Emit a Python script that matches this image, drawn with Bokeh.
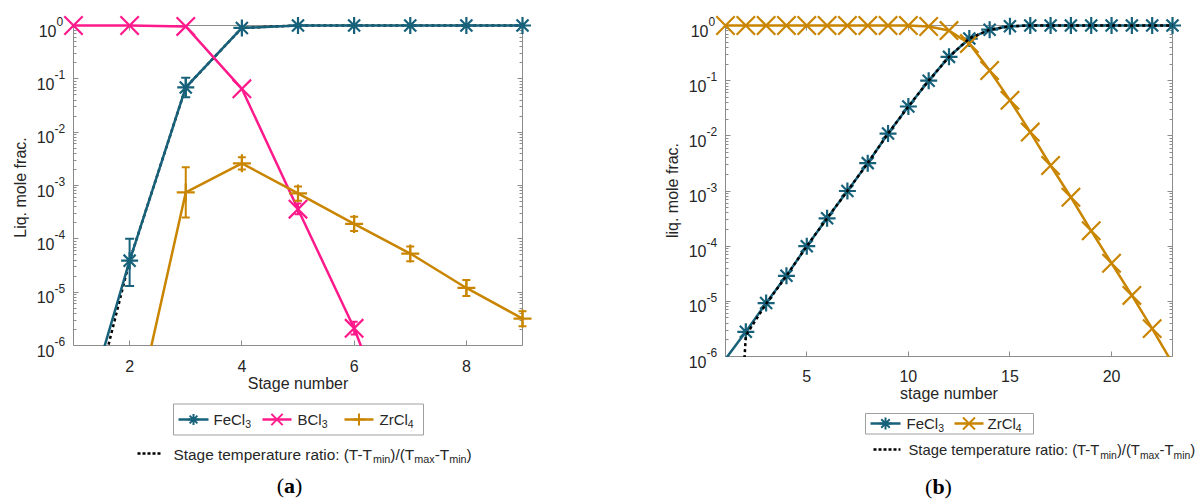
import math
from bokeh.plotting import figure
from bokeh.models import (Range1d, FixedTicker, LogAxis, LinearAxis, LinearScale,
                          Whisker, TeeHead, ColumnDataSource, CustomJSTickFormatter)
from bokeh.layouts import row
from bokeh.core.properties import value
from bokeh.embed import file_html
from bokeh.resources import INLINE

# ---------------- data: panel (a) ----------------
stages_a = [1, 2, 3, 4, 5, 6, 7, 8, 9]
fecl3_a = [1.0e-8, 3.9e-5, 0.069, 0.90, 1.0, 1.0, 1.0, 1.0, 1.0]
temp_ratio_a = [2.5e-9, 3.9e-5, 0.069, 0.90, 1.0, 1.0, 1.0, 1.0, 1.0]
bcl3_stages_a = [1, 2, 3, 4, 5, 6, 7]
bcl3_a = [1.0, 1.0, 0.96, 0.065, 3.6e-4, 2.1e-6, 4.0e-9]
zrcl4_stages_a = [2, 3, 4, 5, 6, 7, 8, 9]
zrcl4_a = [1.5e-8, 7.4e-4, 2.6e-3, 7.1e-4, 1.9e-4, 5.3e-5, 1.2e-5, 3.2e-6]

fecl3_err_stages_a = [2, 3]
fecl3_err_lo_a = [1.3e-5, 0.045]
fecl3_err_hi_a = [1.0e-4, 0.105]
bcl3_err_stages_a = [5, 6]
bcl3_err_lo_a = [2.9e-4, 1.6e-6]
bcl3_err_hi_a = [4.6e-4, 2.8e-6]
zrcl4_err_stages_a = [3, 4, 5, 6, 7, 8, 9]
zrcl4_err_lo_a = [2.5e-4, 2.0e-3, 5.2e-4, 1.4e-4, 3.8e-5, 8.5e-6, 2.3e-6]
zrcl4_err_hi_a = [2.2e-3, 3.4e-3, 9.6e-4, 2.6e-4, 7.2e-5, 1.7e-5, 4.4e-6]

xticks_a = [2, 4, 6, 8]

# ---------------- data: panel (b) ----------------
stages_b = [1, 2, 3, 4, 5, 6, 7, 8, 9, 10, 11, 12, 13, 14, 15, 16, 17, 18, 19, 20, 21, 22, 23]
fecl3_b = [9.0e-7, 2.8e-6, 9.3e-6, 2.9e-5, 1.0e-4, 3.2e-4, 1.0e-3, 3.2e-3, 0.011, 0.034,
           0.10, 0.27, 0.58, 0.84, 0.97, 1.0, 1.0, 1.0, 1.0, 1.0, 1.0, 1.0, 1.0]
zrcl4_b = [1.0, 1.0, 1.0, 1.0, 1.0, 1.0, 1.0, 1.0, 1.0, 1.0, 0.96, 0.81, 0.47, 0.153,
           0.044, 0.0117, 2.9e-3, 7.7e-4, 1.9e-4, 4.9e-5, 1.28e-5, 3.2e-6, 7.5e-7]
temp_ratio_b = [1.0e-12, 2.4e-6, 9.0e-6, 2.9e-5, 1.0e-4, 3.2e-4, 1.0e-3, 3.2e-3, 0.011, 0.034,
                0.10, 0.27, 0.58, 0.84, 0.97, 1.0, 1.0, 1.0, 1.0, 1.0, 1.0, 1.0, 1.0]

xticks_b = [5, 10, 15, 20]
y_exponents = [0, -1, -2, -3, -4, -5, -6]

# ---------------- style ----------------
TEAL = "#17617a"
PINK = "#ff1a8c"
ORANGE = "#c98500"
AXC = "#8c8c8c"
TXT = "#262626"
FONT = "Liberation Sans"
H = 503
B = 3

W = {' ': 278, '(': 333, ')': 333, '-': 333, '.': 278, '/': 278, ':': 278,
     'B': 667, 'C': 722, 'F': 611, 'S': 667, 'T': 611, 'Z': 611,
     'a': 556, 'b': 556, 'c': 500, 'e': 556, 'f': 278, 'g': 556, 'i': 222,
     'l': 222, 'm': 833, 'n': 556, 'o': 556, 'p': 556, 'q': 556, 'r': 333,
     't': 278, 'u': 556, 'x': 500}
for d in "0123456789":
    W[d] = 556


def tw(s, size):
    return sum(W.get(ch, 556) for ch in s) * size / 1000.0


y_major = [10.0 ** k for k in y_exponents]
y_minor = [m * 10.0 ** k for k in range(-6, 0) for m in range(2, 10)]


def style_axis(ax):
    ax.axis_line_color = AXC
    ax.axis_line_width = 1
    ax.major_tick_line_color = AXC
    ax.minor_tick_line_color = AXC
    ax.major_tick_in = 5
    ax.major_tick_out = 0
    ax.minor_tick_in = 3
    ax.minor_tick_out = 0
    ax.level = "underlay"
    ax.formatter = CustomJSTickFormatter(code="return ''")
    ax.major_label_text_font_size = "1px"
    ax.major_label_standoff = 0


def txt(p, x, y, s, size, align="left", baseline="middle", xr="px", yr="px",
        angle=0.0, color=TXT, font=FONT, style="normal", xo=0, yo=0):
    p.text(x=[x], y=[y], text=[s], text_font=value(font),
           text_font_size=value("%.1fpx" % size), text_font_style=style,
           text_align=align, text_baseline=baseline, text_color=color, angle=angle,
           x_offset=xo, y_offset=yo, x_range_name=xr, y_range_name=yr, level="overlay")


def rich(p, x, yc, parts, size, sub_size, drop, color=TXT):
    for s, is_sub in parts:
        fs = sub_size if is_sub else size
        txt(p, x, yc + (drop if is_sub else 0), s, fs, color=color)
        x += tw(s, fs)


def make_panel(wfig, px0, box_l, box_r, box_t, box_b, xlo, xhi, xticks,
               xlabel, xlab_y, xtick_y, ylabel, ylab_x, ylab_y):
    fl, fr, ft, fb = px0 + B, px0 + wfig - B, B, H - B
    ux = (xhi - xlo) / float(box_r - box_l)
    dec = 6.0 / float(box_b - box_t)
    p = figure(width=wfig, height=H,
               x_range=Range1d(xlo - (box_l - fl) * ux, xhi + (fr - box_r) * ux),
               y_range=Range1d(10 ** (-6 - (fb - box_b) * dec), 10 ** ((box_t - ft) * dec)),
               y_axis_type="log", output_backend="svg", toolbar_location=None,
               min_border=B)
    p.extra_x_ranges = {"px": Range1d(fl, fr)}
    p.extra_y_ranges = {"px": Range1d(fb, ft)}
    p.extra_x_scales = {"px": LinearScale()}
    p.extra_y_scales = {"px": LinearScale()}
    p.grid.visible = False
    p.outline_line_color = None
    p.background_fill_color = "white"
    p.border_fill_color = "white"

    yl = p.yaxis[0]
    yl.ticker = FixedTicker(ticks=y_major, minor_ticks=y_minor)
    yl.fixed_location = xlo
    yl.bounds = (1e-6, 1)
    style_axis(yl)
    xb = p.xaxis[0]
    xb.ticker = FixedTicker(ticks=xticks)
    xb.fixed_location = 1e-6
    xb.bounds = (xlo, xhi)
    style_axis(xb)
    yr = LogAxis(ticker=FixedTicker(ticks=y_major, minor_ticks=y_minor),
                 fixed_location=xhi, bounds=(1e-6, 1))
    style_axis(yr)
    p.add_layout(yr, "right")
    xt = LinearAxis(ticker=FixedTicker(ticks=xticks), fixed_location=1.0, bounds=(xlo, xhi))
    style_axis(xt)
    p.add_layout(xt, "above")

    # white mask below the lower axis (clips the lines there, as the axes box does)
    p.quad(left=[fl], right=[fr], top=[box_b + 0.5], bottom=[fb + 5], fill_color="white",
           line_color=None, x_range_name="px", y_range_name="px", level="annotation")

    for t in xticks:
        txt(p, t, xtick_y, str(t), 16, align="center", xr="default")
    for k in y_exponents:
        xe = box_l - (17 if k == 0 else 19)
        txt(p, xe, 10.0 ** k, "10", 16, align="right", yr="default", yo=5)
        txt(p, xe, 10.0 ** k, str(k), 12, align="left", yr="default", yo=-4)
    txt(p, (box_l + box_r) / 2.0, xlab_y, xlabel, 16, align="center")
    txt(p, ylab_x, ylab_y, ylabel, 16, align="center", angle=math.pi / 2)
    return p


def shown(xs, ys):
    pts = [(x, y) for x, y in zip(xs, ys) if y >= 1e-6]
    return [a for a, _ in pts], [b for _, b in pts]


def whisk(p, xs, lo, hi, color, cap):
    src = ColumnDataSource(dict(x=xs, lo=lo, hi=hi))
    w = Whisker(source=src, base="x", lower="lo", upper="hi", dimension="height",
                line_color=color, line_width=2,
                upper_head=TeeHead(size=cap, line_color=color, line_width=2),
                lower_head=TeeHead(size=cap, line_color=color, line_width=2))
    w.level = "glyph"
    p.add_layout(w)


def series(p, xs, ys, color, marker, size):
    p.line(xs, ys, line_color=color, line_width=2.5)
    mx, my = shown(xs, ys)
    p.scatter(mx, my, marker=marker, size=size, line_color=color, line_width=2.2)


def panel_tag(p, cx, yc, letter):
    wp = 333 * 22 / 1000.0
    wl = (500 if letter == "a" else 556) * 22 / 1000.0
    x = cx - (2 * wp + wl) / 2.0
    for s, bold, w in [("(", False, wp), (letter, True, wl), (")", False, wp)]:
        txt(p, x, yc, s, 22, color="black", font="Liberation Serif",
            style="bold" if bold else "normal")
        x += w


ratio_parts = [("Stage temperature ratio: (T-T", False), ("min", True), (")/(T", False),
               ("max", True), ("-T", False), ("min", True), (")", False)]


def legend_entry(p, color, mk, msz, x0, x1, y, name, sub, tx, drop):
    p.line([x0, x1], [y, y], line_color=color, line_width=2.5,
           x_range_name="px", y_range_name="px", level="overlay")
    p.scatter([(x0 + x1) / 2.0], [y], marker=mk, size=msz, line_color=color, line_width=2,
              x_range_name="px", y_range_name="px", level="overlay")
    rich(p, tx, y, [(name, False), (sub, True)], 15, 10.5, drop)


def legend_box(p, l, r, t, b):
    p.quad(left=[l], right=[r], top=[t], bottom=[b], fill_color="white",
           line_color="#a0a0a0", line_width=1, x_range_name="px", y_range_name="px",
           level="overlay")


# ---------------- panel (a) ----------------
pa = make_panel(600, 0, 73, 522, 25, 345, 1, 9, xticks_a,
                "Stage number", 383, 365, "Liq. mole frac.", 20, 187)
pa.line(stages_a, temp_ratio_a, line_color="black", line_width=2.5, line_dash="3 3")
whisk(pa, fecl3_err_stages_a, fecl3_err_lo_a, fecl3_err_hi_a, TEAL, 9)
series(pa, stages_a, fecl3_a, TEAL, "asterisk", 17)
whisk(pa, bcl3_err_stages_a, bcl3_err_lo_a, bcl3_err_hi_a, PINK, 7)
series(pa, bcl3_stages_a, bcl3_a, PINK, "x", 26)
whisk(pa, zrcl4_err_stages_a, zrcl4_err_lo_a, zrcl4_err_hi_a, ORANGE, 8)
series(pa, zrcl4_stages_a, zrcl4_a, ORANGE, "cross", 18)

legend_box(pa, 173, 423, 403.5, 434.5)
legend_entry(pa, TEAL, "asterisk", 11, 178, 208, 419, "FeCl", "3", 213, 4)
legend_entry(pa, PINK, "x", 16, 262, 291, 419, "BCl", "3", 297, 4)
legend_entry(pa, ORANGE, "cross", 12, 344, 373, 419, "ZrCl", "4", 379, 4)
pa.line([137, 162], [453, 453], line_color="black", line_width=2.5, line_dash="3 2",
        x_range_name="px", y_range_name="px", level="overlay")
rich(pa, 173, 453.5, ratio_parts, 15.4, 10.8, 5)
panel_tag(pa, 289, 485, "a")

# ---------------- panel (b) ----------------
pb = make_panel(601, 600, 725, 1172, 25, 356, 1, 23, xticks_b,
                "stage number", 393, 375, "liq. mole frac.", 672, 190)
series(pb, stages_b, fecl3_b, TEAL, "asterisk", 17)
series(pb, stages_b, zrcl4_b, ORANGE, "x", 26)
pb.line(stages_b, temp_ratio_b, line_color="black", line_width=2.5, line_dash="3 3")

legend_box(pb, 865, 1033, 413, 433.5)
legend_entry(pb, TEAL, "asterisk", 12, 870, 900, 423, "FeCl", "3", 906, 4)
legend_entry(pb, ORANGE, "x", 17, 954, 983, 423, "ZrCl", "4", 987, 4)
pb.line([873, 900], [449, 449], line_color="black", line_width=2.5, line_dash="3 2",
        x_range_name="px", y_range_name="px", level="overlay")
rich(pb, 908, 449.5, ratio_parts, 14.8, 10.4, 5)
panel_tag(pb, 938, 486, "b")

layout = row(pa, pb)
open("out.html", "w").write(file_html(layout, INLINE))
